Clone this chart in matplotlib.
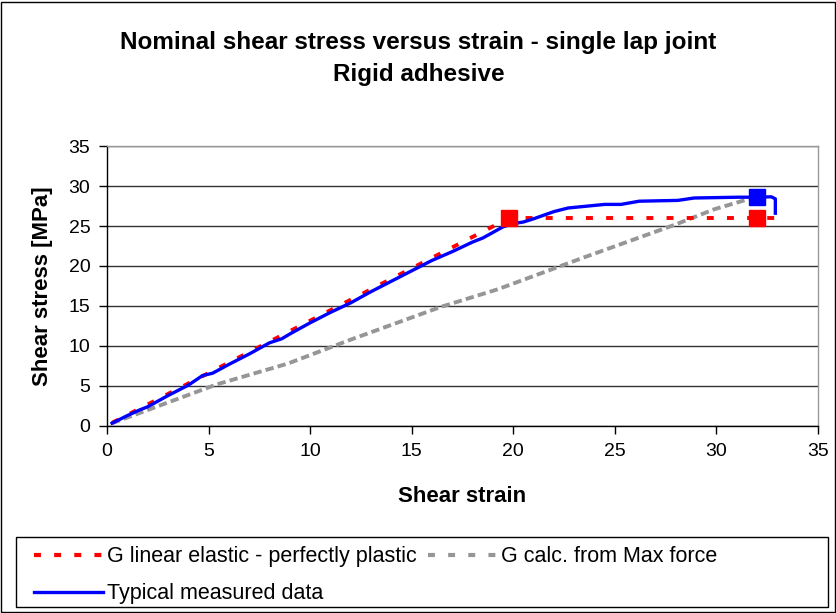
import matplotlib
matplotlib.use("Agg")
import matplotlib.pyplot as plt
from matplotlib.patches import Rectangle
from matplotlib.lines import Line2D

plt.rcParams['font.family'] = ['Liberation Sans', 'DejaVu Sans']
plt.rcParams['lines.scale_dashes'] = False

# ---- data ----
red_x = [0.25, 19.8, 32.0, 32.9]
red_y = [0.4, 26.0, 26.0, 26.0]
red_marker_x = [19.8, 32.0]
red_marker_y = [26.0, 26.0]

gray_x = [0.25, 5.4, 8.9, 12.0, 16.45, 19.25, 23.4, 28.0, 29.9, 31.9]
gray_y = [0.35, 5.2, 7.8, 10.8, 14.9, 17.1, 21.0, 25.2, 27.1, 28.6]

blue_x = [0.25, 1.0, 1.6, 2.0, 3.0, 4.0, 4.7, 5.2, 6.0, 7.0, 8.0, 8.6, 9.0, 10.0,
          11.0, 11.5, 12.0, 13.0, 14.0, 15.0, 16.0, 17.0, 18.0, 18.5, 19.0, 19.5,
          20.0, 20.5, 21.0, 22.0, 22.7, 24.5, 25.3, 26.2, 28.1, 28.9, 31.1, 32.0,
          32.7, 32.9, 32.9]
blue_y = [0.35, 1.3, 2.0, 2.4, 3.8, 5.1, 6.3, 6.6, 7.7, 9.0, 10.4, 10.9, 11.5, 12.9,
          14.2, 14.8, 15.4, 16.8, 18.1, 19.4, 20.7, 21.8, 23.0, 23.5, 24.2, 24.9,
          25.3, 25.5, 25.9, 26.8, 27.25, 27.7, 27.7, 28.1, 28.2, 28.5, 28.6, 28.6,
          28.65, 28.4, 26.6]
blue_marker_x = [32.0]
blue_marker_y = [28.6]

x_ticks = [0, 5, 10, 15, 20, 25, 30, 35]
y_ticks = [0, 5, 10, 15, 20, 25, 30, 35]

labels = ["G linear elastic - perfectly plastic", "G calc. from Max force",
          "Typical measured data"]

# ---- figure ----
W, H = 837, 613
fig = plt.figure(figsize=(W / 100, H / 100), dpi=100)
ax = fig.add_axes([107 / W, 1 - 426 / H, (818 - 107) / W, (426 - 146) / H])

RED = '#FF0000'
GRAY = '#969696'
BLUE = '#0000FF'

ax.plot(gray_x, gray_y, color=GRAY, lw=2.8, dashes=(6, 3), zorder=3)
ax.plot(red_x, red_y, color=RED, lw=2.8, dashes=(5, 9.5), zorder=4)
ax.plot(blue_x, blue_y, color=BLUE, lw=2.4, zorder=5, solid_joinstyle='round')
ax.plot(red_marker_x, red_marker_y, ls='none', marker='s', ms=11, color=RED,
        mec=RED, zorder=6)
ax.plot(blue_marker_x, blue_marker_y, ls='none', marker='s', ms=11, color=BLUE,
        mec=BLUE, zorder=6)

ax.set_xlim(0, 35)
ax.set_ylim(0, 35)
ax.set_xticks(x_ticks)
ax.set_yticks(y_ticks)
ax.tick_params(axis='both', direction='out', length=6, width=1, labelsize=14,
               color='black', pad=6)
ax.grid(axis='y', color='#333333', lw=1.0)
ax.set_axisbelow(True)
for s in ['left', 'bottom']:
    ax.spines[s].set_color('black')
    ax.spines[s].set_linewidth(1.0)
for s in ['top', 'right']:
    ax.spines[s].set_color('#999999')
    ax.spines[s].set_linewidth(1.0)

ax.set_xlabel('Shear strain', fontsize=16, fontweight='bold', labelpad=19)
ax.set_ylabel('Shear stress [MPa]', fontsize=16, fontweight='bold', labelpad=11)

fig.text(0.5, 1 - 42 / H, 'Nominal shear stress versus strain - single lap joint',
         ha='center', va='center', fontsize=17.5, fontweight='bold')
fig.text(0.5, 1 - 75 / H, 'Rigid adhesive', ha='center', va='center',
         fontsize=17.5, fontweight='bold')

# figure border
fig.patches.append(Rectangle((1.5 / W, 1.5 / H), (W - 3) / W, (H - 3) / H,
                             transform=fig.transFigure, fill=False,
                             edgecolor='black', lw=1.0))
# legend box
fig.patches.append(Rectangle((16 / W, 1 - 607 / H), (828 - 16) / W, (607 - 537) / H,
                             transform=fig.transFigure, fill=False,
                             edgecolor='black', lw=1.0))

h_red = Line2D([], [], color=RED, lw=3, dashes=(5, 9.5))
h_gray = Line2D([], [], color=GRAY, lw=3, dashes=(5, 9.5))
h_blue = Line2D([], [], color=BLUE, lw=2.4)
fig.legend([h_red, h_blue, h_gray], [labels[0], labels[2], labels[1]],
           ncol=2, loc='upper left', bbox_to_anchor=(19 / W, 1 - 531 / H),
           frameon=False, fontsize=15.5, handlelength=3.2, handletextpad=0.2,
           columnspacing=0.5, labelspacing=0.75, borderpad=0.2)

fig.savefig('out.png', dpi=100)
